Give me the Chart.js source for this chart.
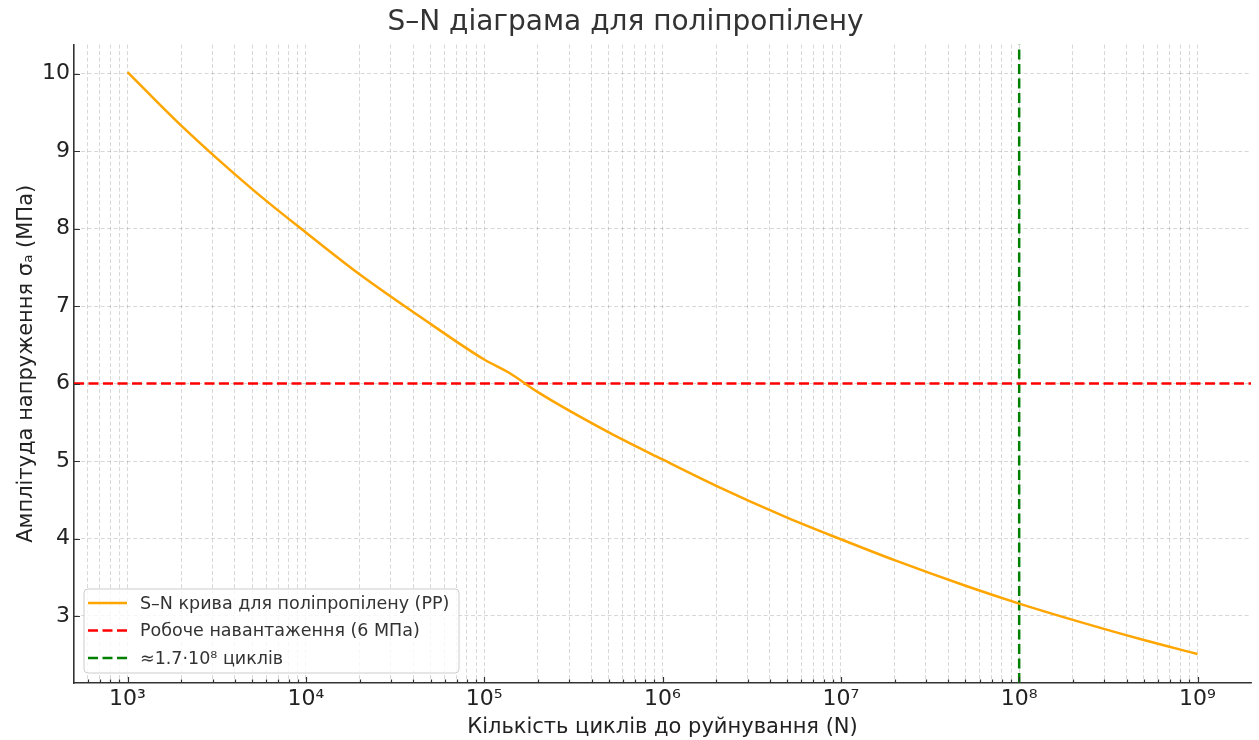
<!DOCTYPE html>
<html lang="uk">
<head>
<meta charset="utf-8">
<title>S–N діаграма для поліпропілену</title>
<script src="https://cdn.jsdelivr.net/npm/chart.js@4.4.1/dist/chart.umd.min.js"></script>
<style>
  html, body { margin: 0; padding: 0; background: #fff; }
  canvas { display: block; }
</style>
</head>
<body>
<canvas id="snChart" width="1259" height="740"></canvas>
<script>
// values
const cycles = [1e3, 2e3, 5e3, 1e4, 2e4, 5e4, 1e5, 1.4e5, 2e5, 5e5, 1e6, 2e6, 5e6, 1e7, 2e7, 5e7, 1e8, 2e8, 5e8, 1e9];
const stress = [10.02, 9.33, 8.51, 7.95, 7.41, 6.77, 6.31, 6.13, 5.89, 5.37, 5.02, 4.68, 4.27, 3.99, 3.72, 3.39, 3.16, 2.95, 2.69, 2.51];

const workLoad = 6;          // МПа
const cyclesMark = 1e8;      // where the green line is drawn
const xRange = [501, 1.995e9];
const yRange = [2.135, 10.375];
const yTicks = [3, 4, 5, 6, 7, 8, 9, 10];

const seriesLabels = [
  'S–N крива для поліпропілену (PP)',
  'Робоче навантаження (6 МПа)',
  '≈1.7·10⁸ циклів',
];

const FONT = '"DejaVu Sans", Verdana, sans-serif';
const sup = { '0': '⁰', '1': '¹', '2': '²', '3': '³', '4': '⁴', '5': '⁵', '6': '⁶', '7': '⁷', '8': '⁸', '9': '⁹' };

const isDecade = (v) => Math.abs(Math.log10(v) - Math.round(Math.log10(v))) < 1e-9;

// ticks point inward, like matplotlib's "in" direction
const innerTicks = {
  id: 'innerTicks',
  afterDatasetsDraw(chart) {
    const { ctx, chartArea, scales: { x, y } } = chart;
    ctx.save();
    ctx.strokeStyle = '#333';
    ctx.lineWidth = 1.2;
    ctx.beginPath();
    x.ticks.forEach((t) => {
      const px = Math.round(x.getPixelForValue(t.value)) + 0.5;
      const len = isDecade(t.value) ? 6 : 3.5;
      ctx.moveTo(px, chartArea.bottom);
      ctx.lineTo(px, chartArea.bottom - len);
    });
    y.ticks.forEach((t) => {
      const py = Math.round(y.getPixelForValue(t.value)) + 0.5;
      ctx.moveTo(chartArea.left, py);
      ctx.lineTo(chartArea.left + 6, py);
    });
    ctx.stroke();
    ctx.restore();
  },
};

// legend box in the lower left corner of the plot
const boxLegend = {
  id: 'boxLegend',
  afterDraw(chart) {
    const { ctx, chartArea } = chart;
    const sets = chart.data.datasets;
    const left = chartArea.left + 10;
    const top = chartArea.bottom - 94;
    const w = 375;
    const h = 84;
    ctx.save();
    ctx.beginPath();
    ctx.roundRect(left, top, w, h, 4);
    ctx.fillStyle = 'rgba(255,255,255,0.8)';
    ctx.fill();
    ctx.strokeStyle = '#cccccc';
    ctx.lineWidth = 1;
    ctx.stroke();

    ctx.font = '17.5px ' + FONT;
    ctx.textBaseline = 'middle';
    ctx.fillStyle = '#333';
    sets.forEach((ds, i) => {
      const yy = top + 14 + i * 27.5;
      ctx.beginPath();
      ctx.setLineDash(ds.borderDash || []);
      ctx.strokeStyle = ds.borderColor;
      ctx.lineWidth = ds.borderWidth;
      ctx.moveTo(left + 4, yy);
      ctx.lineTo(left + 43, yy);
      ctx.stroke();
      ctx.setLineDash([]);
      ctx.fillText(ds.label, left + 56, yy + 1);
    });
    ctx.restore();
  },
};

new Chart(document.getElementById('snChart'), {
  type: 'scatter',
  data: {
    datasets: [
      {
        label: seriesLabels[0],
        data: cycles.map((n, i) => ({ x: n, y: stress[i] })),
        showLine: true,
        borderColor: '#FFA500',
        borderWidth: 2.5,
        pointRadius: 0,
        cubicInterpolationMode: 'monotone',
      },
      {
        label: seriesLabels[1],
        data: [{ x: xRange[0], y: workLoad }, { x: xRange[1], y: workLoad }],
        showLine: true,
        borderColor: '#FF0000',
        borderWidth: 2.5,
        borderDash: [10, 4.5],
        pointRadius: 0,
      },
      {
        label: seriesLabels[2],
        data: [{ x: cyclesMark, y: yRange[0] }, { x: cyclesMark, y: yRange[1] }],
        showLine: true,
        borderColor: '#008000',
        borderWidth: 2.5,
        borderDash: [10, 4.5],
        pointRadius: 0,
      },
    ],
  },
  options: {
    responsive: false,
    animation: false,
    layout: { padding: { left: 0, right: 8, top: 0, bottom: 0 } },
    plugins: {
      legend: { display: false },
      tooltip: { enabled: false },
      title: {
        display: true,
        text: 'S–N діаграма для поліпропілену',
        color: '#333',
        font: { family: FONT, size: 28, weight: 'normal' },
        padding: { top: 6, bottom: 5 },
      },
    },
    scales: {
      x: {
        type: 'logarithmic',
        min: xRange[0],
        max: xRange[1],
        afterBuildTicks: (scale) => {
          const ticks = [];
          for (let e = 2; e <= 9; e++) {
            for (let m = 1; m <= 9; m++) {
              const v = m * Math.pow(10, e);
              if (v >= scale.min && v <= scale.max) ticks.push({ value: v });
            }
          }
          scale.ticks = ticks;
        },
        afterFit: (scale) => { scale.height = 57; },
        ticks: {
          autoSkip: false,
          maxRotation: 0,
          padding: 3,
          color: '#222',
          font: { family: FONT, size: 22 },
          callback: (v) => {
            if (!isDecade(v)) return '';
            const e = String(Math.round(Math.log10(v)));
            return '10' + e.split('').map((c) => sup[c]).join('');
          },
        },
        grid: { color: 'rgba(0,0,0,0.2)', lineWidth: 0.8, drawTicks: false },
        border: { display: true, color: '#333', width: 1.6, dash: [4, 2.5] },
        title: {
          display: true,
          text: 'Кількість циклів до руйнування (N)',
          color: '#222',
          font: { family: FONT, size: 21 },
          padding: { top: 0, bottom: 0 },
        },
      },
      y: {
        type: 'linear',
        min: yRange[0],
        max: yRange[1],
        afterBuildTicks: (scale) => {
          scale.ticks = yTicks.map((v) => ({ value: v }));
        },
        afterFit: (scale) => { scale.width = 74; },
        ticks: {
          padding: 4,
          color: '#222',
          font: { family: FONT, size: 22 },
        },
        grid: { color: 'rgba(0,0,0,0.2)', lineWidth: 0.8, drawTicks: false },
        border: { display: true, color: '#333', width: 1.6, dash: [4, 2.5] },
        title: {
          display: true,
          text: 'Амплітуда напруження σₐ (МПа)',
          color: '#222',
          font: { family: FONT, size: 21 },
          padding: { top: 14, bottom: 0 },
        },
      },
    },
  },
  plugins: [innerTicks, boxLegend],
});
</script>
</body>
</html>
